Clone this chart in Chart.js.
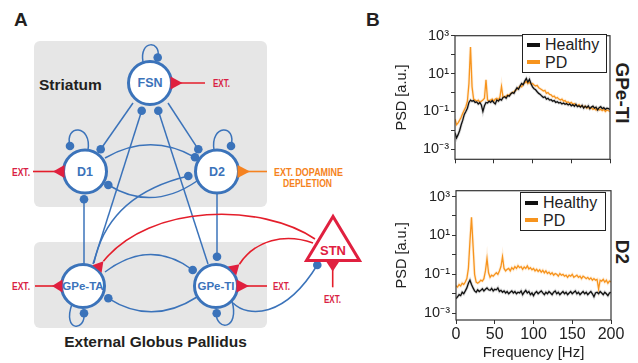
<!DOCTYPE html>
<html lang="en">
<head>
<meta charset="UTF-8">
<title>PSD</title>
<script src="https://cdn.jsdelivr.net/npm/chart.js"></script>
<style>
    body {
        margin: 0;
        background: #fff;
        font-family: "Liberation Sans", Arial, sans-serif;
    }
    #fig {
        position: relative;
        width: 638px;
        height: 363px;
        overflow: hidden;
    }
    #diagram {
        position: absolute;
        left: 0;
        top: 0;
    }
    canvas {
        position: absolute;
    }
    .legend {
        position: absolute;
        border: 1.5px solid #222;
        background: #fff;
        box-sizing: border-box;
        padding: 1px 0 0 4px;
    }
    .legend div {
        height: 17.6px;
        line-height: 17.6px;
        font-size: 16px;
        color: #222;
        white-space: nowrap;
    }
    .legend span {
        display: inline-block;
        width: 13px;
        height: 4px;
        vertical-align: middle;
        margin-right: 5px;
        position: relative;
        top: -1px;
    }
</style>
</head>
<body>
<div id="fig">
<svg id="diagram" width="638" height="363" font-family="Liberation Sans, Arial, sans-serif">
    <!-- boxes -->
    <rect x="34" y="41" width="233" height="166" rx="6" fill="#e6e6e6"/>
    <rect x="34" y="242" width="233" height="86" rx="6" fill="#e6e6e6"/>
    <text x="14" y="26" font-size="19" font-weight="bold" fill="#231f20">A</text>
    <text x="366" y="26" font-size="19" font-weight="bold" fill="#231f20">B</text>
    <text x="39" y="89.5" font-size="15.5" font-weight="bold" fill="#231f20">Striatum</text>
    <text x="155.5" y="346.5" font-size="15.5" font-weight="bold" fill="#231f20" text-anchor="middle">External Globus Pallidus</text>

    <!-- inhibitory connections -->
    <g fill="none" stroke="#3b73ba" stroke-width="1.5">
        <path d="M143,62 C139,40 161,40 158,57"/>
        <path d="M70,146 C64,124 92,124 88,150"/>
        <path d="M214,150 C210,124 237,124 231,146"/>
        <path d="M72,304 C62,332 86,332 84,313"/>
        <path d="M216,312 C216,332 240,330 232,301"/>
        <path d="M133,103 L100.7,149.3"/>
        <path d="M168,103 L198.3,149.3"/>
        <path d="M93,264 L141.7,110.7"/>
        <path d="M208,264 L158.3,110.7"/>
        <path d="M84,264 L84,199.3"/>
        <path d="M217,193 L217,256.7"/>
        <path d="M105,158 Q150,132 195,157.3"/>
        <path d="M197,181 Q152,212 108.3,185"/>
        <path d="M94,263 Q108,195 188.3,176"/>
        <path d="M105,272 Q150,238 192.7,270"/>
        <path d="M197,297 Q152,326 108.3,298.3"/>
        <path d="M233,303 C248,318 285,318 317.3,265"/>
    </g>
    <g fill="#3b73ba">
        <circle cx="157.7" cy="57.5" r="4.3"/>
        <circle cx="70" cy="146" r="4.3"/>
        <circle cx="231" cy="146" r="4.3"/>
        <circle cx="84" cy="313.3" r="4.3"/>
        <circle cx="216.7" cy="313.3" r="4.3"/>
        <circle cx="100.7" cy="149.3" r="4.3"/>
        <circle cx="198.3" cy="149.3" r="4.3"/>
        <circle cx="141.7" cy="110.7" r="4.3"/>
        <circle cx="158.3" cy="110.7" r="4.3"/>
        <circle cx="84" cy="199.3" r="4.3"/>
        <circle cx="217" cy="256.7" r="4.3"/>
        <circle cx="195" cy="157.3" r="4.3"/>
        <circle cx="108.3" cy="185" r="4.3"/>
        <circle cx="188.3" cy="176" r="4.3"/>
        <circle cx="192.7" cy="270" r="4.3"/>
        <circle cx="108.3" cy="298.3" r="4.3"/>
        <circle cx="317.3" cy="265" r="4.3"/>
    </g>

    <!-- excitatory connections -->
    <g fill="none" stroke="#e41e2b" stroke-width="1.6">
        <path d="M315,239 C262,203 150,203 103.4,261.3"/>
        <path d="M313,243 C285,233 255,240 239.4,264.2"/>
        <path d="M172,83 L205,83"/>
        <path d="M33,171.5 L63,171.5"/>
        <path d="M35,286 L61,286"/>
        <path d="M238,286 L267,286"/>
        <path d="M332.7,262 L332.7,287.3"/>
    </g>
    <path d="M239,171.5 L267,171.5" stroke="#f58220" stroke-width="1.6"/>

    <!-- neurons -->
    <g fill="#fff" stroke="#3b73ba" stroke-width="3">
        <circle cx="150" cy="83" r="21.5"/>
        <circle cx="85" cy="171.5" r="21.5"/>
        <circle cx="217" cy="171.5" r="21.5"/>
        <circle cx="83" cy="286" r="21.5"/>
        <circle cx="216" cy="286" r="21.5"/>
    </g>
    <polygon points="333,216.5 306.5,260.5 359.5,260.5" fill="#fff" stroke="#e0203f" stroke-width="3" stroke-linejoin="miter"/>

    <g fill="#e0203f">
        <polygon points="170.5,76.5 170.5,89.5 182.5,83"/>
        <polygon points="64.5,165 64.5,178 53,171.5"/>
        <polygon points="62.5,279.5 62.5,292.5 52,286"/>
        <polygon points="236.5,279.5 236.5,292.5 249,286"/>
        <polygon points="326.5,262 339,262 332.7,271.5"/>
        <polygon points="101.6,272.8 92.4,265.2 103.4,261.3"/>
        <polygon points="236.2,275.4 228,266.6 239.4,264.2"/>
    </g>
    <polygon points="237.5,165 237.5,178 250,171.5" fill="#f58220"/>

    <g font-weight="bold" fill="#3b73ba" text-anchor="middle" dominant-baseline="central">
        <text x="150" y="83" font-size="12.5">FSN</text>
        <text x="85" y="171.5" font-size="12.5">D1</text>
        <text x="217" y="171.5" font-size="12.5">D2</text>
        <text x="83" y="286" font-size="11.5">GPe-TA</text>
        <text x="216" y="286" font-size="11.5">GPe-TI</text>
    </g>
    <text x="333" y="250" font-size="13" font-weight="bold" fill="#e0203f" text-anchor="middle" dominant-baseline="central">STN</text>

    <g font-size="10" font-weight="bold" fill="#d91f45" dominant-baseline="central">
        <text x="213" y="83.5" textLength="17" lengthAdjust="spacingAndGlyphs">EXT.</text>
        <text x="12" y="172" textLength="18" lengthAdjust="spacingAndGlyphs">EXT.</text>
        <text x="12" y="286" textLength="18" lengthAdjust="spacingAndGlyphs">EXT.</text>
        <text x="273" y="286" textLength="17" lengthAdjust="spacingAndGlyphs">EXT.</text>
        <text x="324" y="299.5" textLength="17" lengthAdjust="spacingAndGlyphs">EXT.</text>
    </g>
    <g font-size="10" font-weight="bold" fill="#f58220" dominant-baseline="central">
        <text x="274" y="172" textLength="69" lengthAdjust="spacingAndGlyphs">EXT.  DOPAMINE</text>
        <text x="283" y="183" textLength="49" lengthAdjust="spacingAndGlyphs">DEPLETION</text>
    </g>

    <g font-size="19" font-weight="bold" fill="#231f20" text-anchor="middle" dominant-baseline="central">
        <text transform="translate(622,93) rotate(90)">GPe-TI</text>
        <text transform="translate(622,252) rotate(90)">D2</text>
    </g>
</svg>

<canvas id="gpeChart" width="248" height="145" style="left:390px; top:25px;"></canvas>
<canvas id="d2Chart" width="248" height="183" style="left:390px; top:180px;"></canvas>
<div class="legend" id="gpeLegend" style="left:522px; top:34px; width:85px; height:39px;"></div>
<div class="legend" id="d2Legend" style="left:520px; top:192px; width:86px; height:39px;"></div>
</div>

<script>
    // frequency bins [Hz]
    const freqHz = [0, 2, 4, 6, 8, 10, 12, 14, 16, 18,
        20, 22, 24, 26, 28, 30, 32, 34, 36, 38,
        40, 42, 44, 46, 48, 50, 52, 54, 56, 58,
        60, 62, 64, 66, 68, 70, 72, 74, 76, 78,
        80, 82, 84, 86, 88, 90, 92, 94, 96, 98,
        100, 102, 104, 106, 108, 110, 112, 114, 116, 118,
        120, 122, 124, 126, 128, 130, 132, 134, 136, 138,
        140, 142, 144, 146, 148, 150, 152, 154, 156, 158,
        160, 162, 164, 166, 168, 170, 172, 174, 176, 178,
        180, 182, 184, 186, 188, 190, 192, 194, 196, 198,
        200];

    // GPe-TI power spectrum
    const gpeHealthy = [0.0075, 0.004, 0.006, 0.01, 0.02, 0.035, 0.07, 0.1, 0.15, 0.3,
        0.4, 0.35, 0.38, 0.3, 0.32, 0.25, 0.3, 0.22, 0.1, 0.2,
        0.3, 0.28, 0.35, 0.3, 0.38, 0.3, 0.25, 0.4, 0.35, 0.45,
        0.4, 0.55, 0.6, 0.5, 0.7, 0.65, 0.85, 1.0, 0.9, 1.3,
        1.8, 1.5, 2.2, 3.0, 2.6, 4.0, 5.5, 3.5, 5.0, 3.0,
        2.0, 1.6, 1.4, 1.1, 0.9, 0.8, 0.65, 0.55, 0.6, 0.45,
        0.5, 0.4, 0.42, 0.35, 0.38, 0.3, 0.33, 0.28, 0.3, 0.25,
        0.28, 0.24, 0.26, 0.22, 0.25, 0.2, 0.23, 0.19, 0.24, 0.18,
        0.2, 0.17, 0.21, 0.15, 0.19, 0.16, 0.2, 0.14, 0.17, 0.19,
        0.15, 0.17, 0.12, 0.16, 0.18, 0.14, 0.16, 0.13, 0.15, 0.14,
        0.13];
    const gpePD = [0.04, 0.02, 0.025, 0.035, 0.05, 0.08, 0.12, 0.18, 0.35, 3.0,
        250, 2.0, 0.45, 0.4, 0.35, 0.4, 0.3, 0.35, 0.4, 0.5,
        4.7, 0.4, 0.35, 0.4, 0.45, 0.35, 0.45, 0.5, 0.4, 0.6,
        2.1, 0.55, 0.6, 0.65, 0.75, 0.7, 0.9, 1.0, 1.1, 1.3,
        1.5, 1.8, 2.2, 2.0, 2.8, 3.2, 3.8, 3.0, 3.5, 2.8,
        3.0, 2.5, 2.2, 2.4, 1.8, 1.6, 1.4, 1.2, 1.3, 0.9,
        1.0, 0.8, 0.75, 0.6, 0.65, 0.5, 0.55, 0.45, 0.4, 0.45,
        0.35, 0.38, 0.3, 0.32, 0.27, 0.3, 0.24, 0.26, 0.22, 0.2,
        0.23, 0.18, 0.2, 0.17, 0.19, 0.15, 0.17, 0.14, 0.16, 0.13,
        0.15, 0.12, 0.14, 0.12, 0.13, 0.11, 0.13, 0.1, 0.12, 0.11,
        0.1];

    // D2 power spectrum
    const d2Healthy = [0.0056, 0.007, 0.009, 0.008, 0.012, 0.01, 0.014, 0.02, 0.035, 0.05,
        0.03, 0.02, 0.014, 0.012, 0.016, 0.013, 0.015, 0.018, 0.014, 0.017,
        0.02, 0.016, 0.015, 0.019, 0.014, 0.017, 0.016, 0.02, 0.013, 0.015,
        0.012, 0.014, 0.011, 0.013, 0.01, 0.012, 0.014, 0.011, 0.013, 0.01,
        0.012, 0.011, 0.014, 0.009, 0.012, 0.015, 0.011, 0.013, 0.009, 0.011,
        0.008, 0.011, 0.013, 0.01, 0.012, 0.014, 0.011, 0.009, 0.012, 0.01,
        0.013, 0.011, 0.009, 0.012, 0.014, 0.01, 0.012, 0.009, 0.011, 0.013,
        0.01, 0.012, 0.009, 0.011, 0.013, 0.01, 0.012, 0.014, 0.01, 0.012,
        0.009, 0.011, 0.013, 0.01, 0.012, 0.009, 0.011, 0.013, 0.01, 0.007,
        0.011, 0.012, 0.01, 0.013, 0.011, 0.009, 0.012, 0.01, 0.008, 0.011,
        0.012];
    const d2PD = [0.026, 0.022, 0.03, 0.025, 0.035, 0.03, 0.04, 0.06, 0.2, 5,
        85, 3, 0.1, 0.04, 0.035, 0.04, 0.05, 0.045, 0.06, 0.15,
        0.65, 0.12, 0.07, 0.09, 0.08, 0.1, 0.12, 0.1, 0.15, 0.25,
        0.8, 0.2, 0.15, 0.18, 0.2, 0.15, 0.22, 0.18, 0.25, 0.2,
        0.28, 0.22, 0.25, 0.18, 0.24, 0.2, 0.27, 0.19, 0.22, 0.17,
        0.2, 0.15, 0.18, 0.14, 0.17, 0.13, 0.16, 0.12, 0.15, 0.11,
        0.13, 0.1, 0.12, 0.09, 0.11, 0.1, 0.08, 0.11, 0.09, 0.1,
        0.08, 0.09, 0.07, 0.09, 0.08, 0.1, 0.07, 0.08, 0.09, 0.07,
        0.08, 0.06, 0.08, 0.07, 0.06, 0.07, 0.055, 0.065, 0.05, 0.06,
        0.05, 0.055, 0.018, 0.05, 0.045, 0.055, 0.04, 0.05, 0.035, 0.045,
        0.04];

    const yTickValues = [0.001, 0.01, 0.1, 1, 10, 100, 1000];
    const xTickStep = 50;

    const BLACK = '#111111';
    const ORANGE = '#f7941d';

    Chart.defaults.font.family = '"Liberation Sans", Arial, sans-serif';
    Chart.defaults.color = '#222';

    const supMap = {'-': '\u207B', '1': '\u00B9', '3': '\u00B3'};
    function powLabel(v) {
        const e = Math.round(Math.log10(v));
        if (e % 2 === 0) return '';
        return '10' + String(e).split('').map(c => supMap[c]).join('');
    }

    function pts(vals) {
        return vals.map((v, i) => ({x: freqHz[i], y: v}));
    }

    const frame = {
        id: 'frame',
        afterDatasetsDraw(c) {
            const {ctx, chartArea: a} = c;
            ctx.save();
            ctx.strokeStyle = '#333';
            ctx.lineWidth = 1.2;
            ctx.strokeRect(a.left, a.top, a.right - a.left, a.bottom - a.top);
            ctx.restore();
        }
    };

    function makeChart(id, healthy, pd, o) {
        const line = {pointRadius: 0, tension: 0, fill: false};
        return new Chart(document.getElementById(id), {
            type: 'line',
            data: {
                datasets: [
                    {...line, label: 'Healthy', data: pts(healthy), borderColor: BLACK, borderWidth: 1.3, order: 1},
                    {...line, label: 'PD', data: pts(pd), borderColor: ORANGE, borderWidth: 1.3, order: 2},
                    {...line, label: 'band', data: pts(healthy), borderColor: 'rgba(130,130,130,0.3)', borderWidth: 3, order: 3},
                    {...line, label: 'band', data: pts(pd), borderColor: 'rgba(247,148,29,0.15)', borderWidth: 3, order: 4}
                ]
            },
            options: {
                responsive: false,
                animation: false,
                layout: {padding: {top: 7, right: o.padRight, left: 0, bottom: 0}},
                plugins: {legend: {display: false}, tooltip: {enabled: false}},
                scales: {
                    x: {
                        type: 'linear', min: 0, max: 200,
                        ticks: {
                            stepSize: xTickStep, maxRotation: 0, padding: 1,
                            font: {size: 16},
                            callback: v => o.showX ? v : ''
                        },
                        grid: {drawOnChartArea: false, tickLength: 4, color: '#333'},
                        border: {display: false},
                        title: {display: o.showX, text: 'Frequency [Hz]', font: {size: 15}, padding: {top: 0, bottom: 1}},
                        afterFit: s => { s.height = o.xHeight; }
                    },
                    y: {
                        type: 'logarithmic', min: o.yMin, max: o.yMax,
                        afterBuildTicks: axis => { axis.ticks = yTickValues.map(v => ({value: v})); },
                        ticks: {autoSkip: false, padding: 2, font: {size: 14.5}, callback: v => powLabel(v)},
                        grid: {drawOnChartArea: false, tickLength: 4, color: '#333'},
                        border: {display: false},
                        title: {display: true, text: 'PSD [a.u.]', font: {size: 14.5}, padding: {top: 3, bottom: 0}},
                        afterFit: s => { s.width = o.yWidth; }
                    }
                }
            },
            plugins: [frame]
        });
    }

    function buildLegend(el, chart) {
        chart.data.datasets.filter(d => d.label !== 'band').forEach(d => {
            const row = document.createElement('div');
            const sw = document.createElement('span');
            sw.style.background = d.borderColor;
            row.appendChild(sw);
            row.appendChild(document.createTextNode(d.label));
            el.appendChild(row);
        });
    }

    const gpeChart = makeChart('gpeChart', gpeHealthy, gpePD,
        {showX: false, xHeight: 8, yWidth: 65, padRight: 28, yMin: 0.000316, yMax: 1000});
    const d2Chart = makeChart('d2Chart', d2Healthy, d2PD,
        {showX: true, xHeight: 43, yWidth: 66, padRight: 27, yMin: 0.000447, yMax: 2000});

    buildLegend(document.getElementById('gpeLegend'), gpeChart);
    buildLegend(document.getElementById('d2Legend'), d2Chart);
</script>
</body>
</html>
